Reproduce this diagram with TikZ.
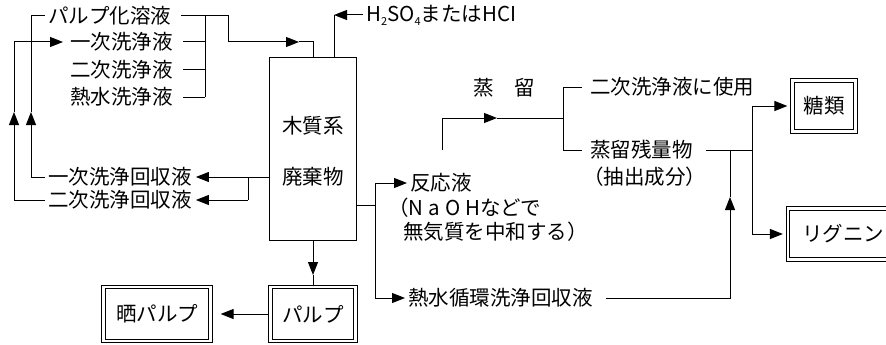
\documentclass[tikz,border=0pt]{standalone}
\usepackage{fontspec}
\newfontfamily\jp{Noto Sans CJK JP}
\usetikzlibrary{arrows.meta}
\newcommand\chemsub[1]{\raisebox{-0.35ex}{\fontsize{11}{11}\selectfont #1}}
\begin{document}
\begin{tikzpicture}[x=1pt,y=-1pt,
  txt/.style={font=\jp\fontsize{20.5}{24}\selectfont, inner sep=0pt},
  lbl/.style={txt, anchor=west},
  ln/.style={line width=1pt},
  ar/.style={ln,-{Triangle[length=13pt,width=10pt]}},
  dbox/.style={txt, draw, double, double distance=2.2pt, line width=1pt, outer sep=2.1pt},
]
\useasboundingbox (0,0) rectangle (886,345);
\clip (0,0) rectangle (886,345);

% left inputs
\node[lbl] (t1) at (48,16) {パルプ化溶液};
\node[lbl] (t2) at (70,42) {一次洗浄液};
\node[lbl] (t3) at (70,70) {二次洗浄液};
\node[lbl] (t4) at (70,97) {熱水洗浄液};
\node[lbl] (r1) at (48,177) {一次洗浄回収液};
\node[lbl] (r2) at (48,200) {二次洗浄回収液};

% main box
\node[draw, ln, minimum width=87pt, minimum height=182pt, inner sep=0pt] (wb) at (313,149) {};
\node[txt] (wb1) at (313,126) {木質系};
\node[txt] (wb2) at (313,177) {廃棄物};

\node[lbl] (acid) at (366,15) {H\chemsub{2}SO\chemsub{4}またはHCI};

% pulp boxes
\node[dbox, minimum width=85pt, minimum height=54pt] (pulp) at (313,314) {パルプ};
\node[dbox, minimum width=107pt, minimum height=54pt] (bpulp) at (157,314) {晒パルプ};

% right texts
\node[lbl] (hanno) at (410,183) {反応液};
\node[lbl] (naoh) at (388,208) {（N\hspace{5pt}a\hspace{5pt}O\hspace{5pt}Hなどで};
\node[lbl] (chuwa) at (403,232) {無気質を中和する）};
\node[lbl] (nessui) at (408,298) {熱水循環洗浄回収液};
\node[txt] (jory) at (504,88) {蒸　留};
\node[lbl] (nijiuse) at (590,87) {二次洗浄液に使用};
\node[lbl] (zan) at (590,150) {蒸留残量物};
\node[lbl] (chus) at (583,177) {（抽出成分）};
\node[dbox, minimum width=63pt, minimum height=51pt] (sugar) at (824,106) {糖類};
\node[dbox, minimum width=110pt, minimum height=51pt] (lig) at (843,234) {リグニン};

% coordinates
\coordinate (b1) at (205,16);
\coordinate (b2) at (205,42);
\coordinate (b3) at (205,70);
\coordinate (b4) at (205,97);
\coordinate (m1) at (299,42);
\coordinate (acorner) at (334,15);
\coordinate (rj) at (248,177);
\coordinate (rj2) at (248,200);
\coordinate (u1) at (31,112);
\coordinate (u2) at (14,112);
\coordinate (dn) at (313,275);
\coordinate (rtop) at (375,183);
\coordinate (rmid) at (375,205);
\coordinate (rbot) at (375,298);
\coordinate (d0) at (442,150);
\coordinate (dm) at (497,118);
\coordinate (dj) at (563,118);
\coordinate (dt) at (563,87);
\coordinate (db) at (563,150);
\coordinate (zj) at (752,150);
\coordinate (st) at (752,106);
\coordinate (sb) at (752,234);
\coordinate (up) at (730,197);
\coordinate (uj) at (730,150);

% left bus
\draw[ln] ([xshift=10pt]t1.east) -- (b1);
\draw[ln] ([xshift=10pt]t2.east) -- (b2);
\draw[ln] ([xshift=10pt]t3.east) -- (b3);
\draw[ln] ([xshift=10pt]t4.east) -- (b4);
\draw[ln] (b1) -- (b4);
\draw[ar] (b1) -- (228,16) -- (228,42) -- (m1);
\draw[ln] (m1) -| (wb.north);

% acid
\draw[ar] ([xshift=-3pt]acid.west) -- (acorner);
\draw[ln] (acorner) -- (acorner |- wb.north);

% returns
\draw[ln] (wb.west |- rj) -- (rj) -- (rj2);
\draw[ar] (rj) -- ([xshift=4pt]r1.east);
\draw[ar] (rj2) -- ([xshift=4pt]r2.east);
\draw[ar] ([xshift=-3pt]r1.west) -| (u1);
\draw[ln] (u1) |- ([xshift=-3pt]t1.west);
\draw[ar] ([xshift=-3pt]r2.west) -| (u2);
\draw[ar] (u2) |- ([xshift=-7pt]t2.west);

% pulp
\draw[ar] (wb.south) -- (dn);
\draw[ln] (dn) -- (pulp.north);
\draw[ar, shorten >=8pt] (pulp.west) -- (bpulp.east);

% right side
\draw[ln] (wb.east |- rmid) -- (rmid);
\draw[ln] (rtop) -- (rbot);
\draw[ar] (rtop) -- ([xshift=-3pt]hanno.west);
\draw[ar] (rbot) -- ([xshift=-3pt]nessui.west);

% distillation
\draw[ar] (d0) |- (dm);
\draw[ln] (dm) -- (dj);
\draw[ln] (dt) -- (db);
\draw[ln] (dt) -- ([xshift=-8pt]nijiuse.west);
\draw[ln] (db) -- ([xshift=-8pt]zan.west);

% products
\draw[ln] ([xshift=13pt]zan.east) -- (zj);
\draw[ln] (st) -- (sb);
\draw[ar, shorten >=3pt] (st) -- (sugar.west);
\draw[ar, shorten >=3pt] (sb) -- (lig.west);
\draw[ar] ([xshift=13pt]nessui.east) -| (up);
\draw[ln] (up) -- (uj);
\end{tikzpicture}
\end{document}
